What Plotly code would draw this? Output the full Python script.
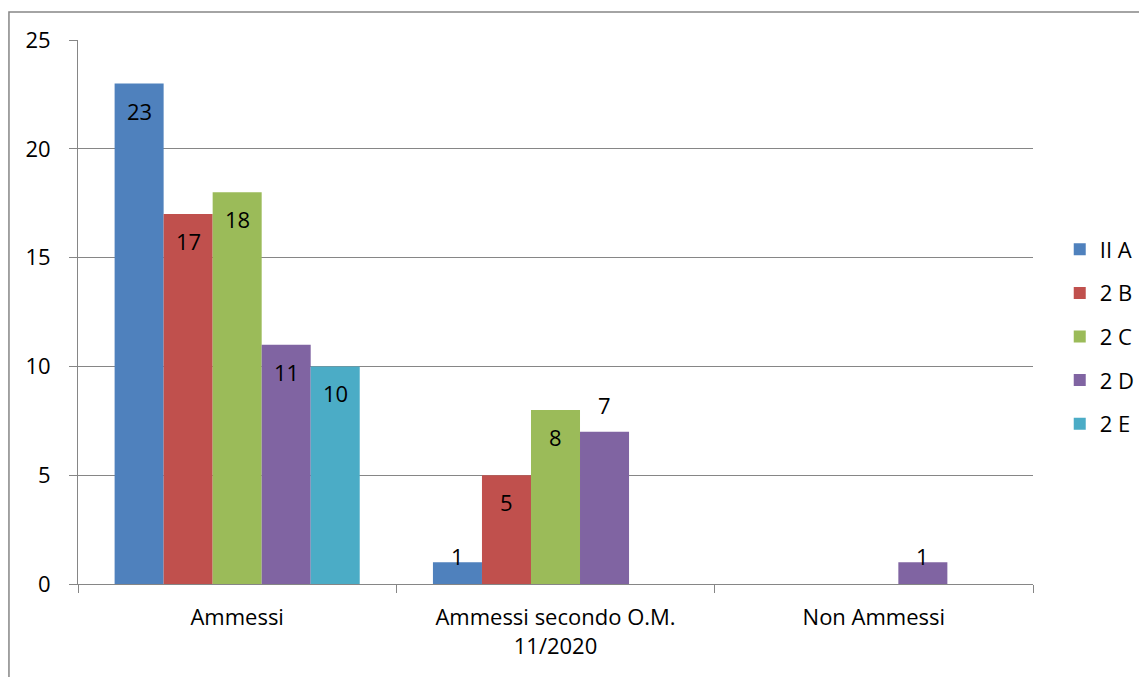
import plotly.graph_objects as go

categories = ["Ammessi", "Ammessi secondo O.M.<br>11/2020", "Non Ammessi"]
series_names = ["II A", "2 B", "2 C", "2 D", "2 E"]
values_IIA = [23, 1, 0]
values_2B = [17, 5, 0]
values_2C = [18, 8, 0]
values_2D = [11, 7, 1]
values_2E = [10, 0, 0]
y_ticks = [0, 5, 10, 15, 20, 25]

all_values = [values_IIA, values_2B, values_2C, values_2D, values_2E]
colors = ["#4F81BD", "#C0504D", "#9BBB59", "#8064A2", "#4BACC6"]

# Layout geometry (page has an 8px body margin)
W, H = 1147, 677
ML, MR, MT, MB = 70, 122, 32, 101
BARGAP = 0.23
FONT = "Open Sans"
FS = 22

plot_w = W - ML - MR
cat_w = plot_w / len(categories)
bar_w = cat_w * (1 - BARGAP) / len(series_names)

# label vertical shift (px) relative to bar top
LABEL_INSIDE = -27
LABEL_OUTSIDE = 27
LABEL_SMALL = 6

fig = go.Figure()
for i, (name, vals) in enumerate(zip(series_names, all_values)):
    fig.add_trace(go.Bar(
        x=categories, y=vals, name=name,
        marker=dict(color=colors[i], line=dict(width=0)),
        legendgroup=name,
    ))

annotations = []
for i, vals in enumerate(all_values):
    for j, v in enumerate(vals):
        if not v:
            continue
        if v <= 1:
            ys = LABEL_SMALL
        elif (series_names[i], j) == ("2 D", 1):
            ys = LABEL_OUTSIDE
        else:
            ys = LABEL_INSIDE
        annotations.append(dict(
            x=categories[j], y=v, xref="x", yref="y", text=str(v),
            showarrow=False, xanchor="center", yanchor="middle",
            xshift=(i - (len(series_names) - 1) / 2) * bar_w, yshift=ys,
            font=dict(family=FONT, size=FS, color="black"),
        ))

fig.update_layout(
    width=W, height=H,
    margin=dict(l=ML, r=MR, t=MT, b=MB, autoexpand=False),
    paper_bgcolor="white", plot_bgcolor="white",
    barmode="group", bargap=BARGAP, bargroupgap=0,
    font=dict(family=FONT, size=FS, color="black"),
    showlegend=True,
    legend=dict(x=1.028, y=0.455, yanchor="middle", xanchor="left",
                font=dict(family=FONT, size=FS, color="black"),
                tracegroupgap=12, bgcolor="rgba(0,0,0,0)"),
    xaxis=dict(showline=True, linecolor="#868686", linewidth=1,
               ticks="outside", tickson="boundaries", ticklen=8, tickcolor="#868686",
               showgrid=False, automargin=False, ticklabelstandoff=14),
    yaxis=dict(range=[0, 25], tickvals=y_ticks, showline=True, linecolor="#868686",
               linewidth=1, ticks="outside", ticklen=8, tickcolor="#868686",
               showgrid=True, gridcolor="#868686", gridwidth=1, zeroline=False,
               ticklabelstandoff=14, automargin=False),
    annotations=annotations,
    shapes=[dict(type="rect", xref="paper", yref="paper",
                 x0=-0.0723, x1=1.3, y0=-0.3, y1=1.0515,
                 line=dict(color="#868686", width=1.5), fillcolor="rgba(0,0,0,0)",
                 layer="below")],
)

fig.write_html("out.html")
